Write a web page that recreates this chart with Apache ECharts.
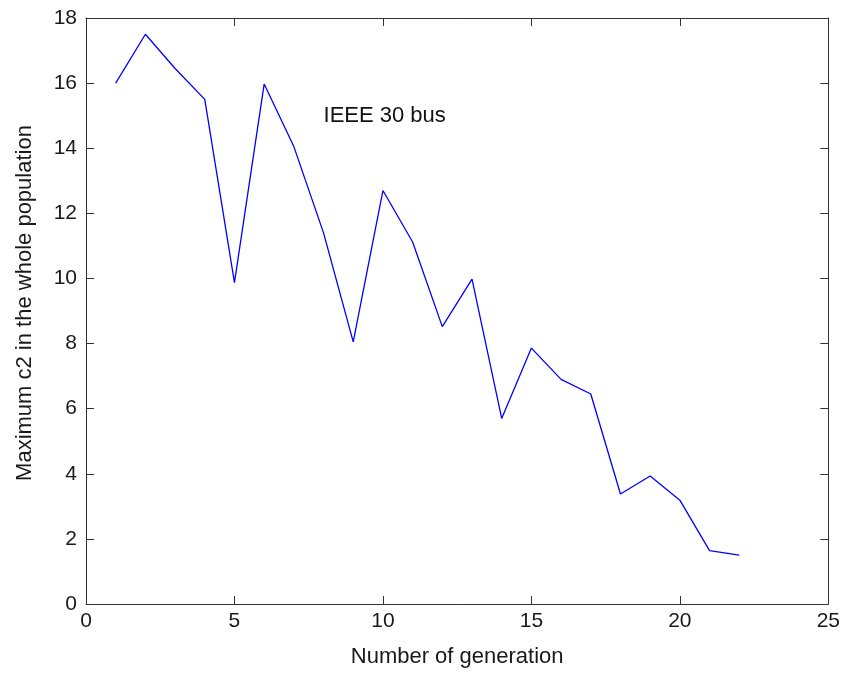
<!DOCTYPE html>
<html>
<head>
<meta charset="utf-8">
<script src="https://cdn.jsdelivr.net/npm/echarts@6/dist/echarts.min.js"></script>
<style>
html,body{margin:0;padding:0;background:#fff;}
#chart{width:843px;height:676px;}
</style>
</head>
<body>
<div id="chart"></div>
<script>
const generations = [1,2,3,4,5,6,7,8,9,10,11,12,13,14,15,16,17,18,19,20,21,22];
const maxC2 = [16.0,17.5,16.45,15.5,9.87,15.97,14.05,11.4,8.05,12.7,11.12,8.52,9.98,5.7,7.86,6.9,6.45,3.38,3.93,3.19,1.64,1.5];
const xTicks = [0,5,10,15,20,25];
const yTicks = [0,2,4,6,8,10,12,14,16,18];
const annotation = {x: 8, y: 15, text: 'IEEE 30 bus'};
const xTitle = 'Number of generation';
const yTitle = 'Maximum c2 in the whole population';

const font = 'Liberation Sans, Arial, sans-serif';
const axisColor = '#333';
const textColor = '#1a1a1a';

const chart = echarts.init(document.getElementById('chart'), null, {renderer: 'canvas'});

function axis(extra) {
  return Object.assign({
    axisLine: {show: true, onZero: false, lineStyle: {color: axisColor, width: 1}},
    axisTick: {show: true, inside: true, length: 8, lineStyle: {color: axisColor, width: 1}},
    splitLine: {show: false},
    axisLabel: {color: textColor, fontFamily: font, fontSize: 21}
  }, extra);
}

chart.setOption({
  animation: false,
  backgroundColor: '#fff',
  grid: {left: 86, right: 14, top: 18, bottom: 72, containLabel: false},
  xAxis: [
    axis({
      type: 'value', min: xTicks[0], max: xTicks[xTicks.length-1], interval: 5,
      position: 'bottom',
      name: xTitle, nameLocation: 'middle', nameGap: 42,
      nameTextStyle: {color: textColor, fontFamily: font, fontSize: 22},
      axisLabel: {color: textColor, fontFamily: font, fontSize: 21, margin: 7}
    }),
    axis({
      type: 'value', min: xTicks[0], max: xTicks[xTicks.length-1], interval: 5,
      position: 'top', axisLabel: {show: false}
    })
  ],
  yAxis: [
    axis({
      type: 'value', min: yTicks[0], max: yTicks[yTicks.length-1], interval: 2,
      position: 'left',
      name: yTitle, nameLocation: 'middle', nameGap: 50,
      nameTextStyle: {color: textColor, fontFamily: font, fontSize: 22, padding: [0, 0, 0, 16]},
      axisLabel: {color: textColor, fontFamily: font, fontSize: 21, margin: 9}
    }),
    axis({
      type: 'value', min: yTicks[0], max: yTicks[yTicks.length-1], interval: 2,
      position: 'right', axisLabel: {show: false}
    })
  ],
  series: [
    {
      type: 'line',
      data: generations.map((g, i) => [g, maxC2[i]]),
      showSymbol: false,
      symbol: 'none',
      lineStyle: {color: '#0000ff', width: 1.3},
      silent: true
    },
    {
      type: 'scatter',
      data: [[annotation.x, annotation.y]],
      symbolSize: 0,
      silent: true,
      itemStyle: {opacity: 1},
      label: {
        show: true, position: 'right', distance: 0,
        formatter: annotation.text,
        color: '#111', fontFamily: font, fontSize: 22,
        align: 'left', verticalAlign: 'middle'
      }
    }
  ]
});
</script>
</body>
</html>
